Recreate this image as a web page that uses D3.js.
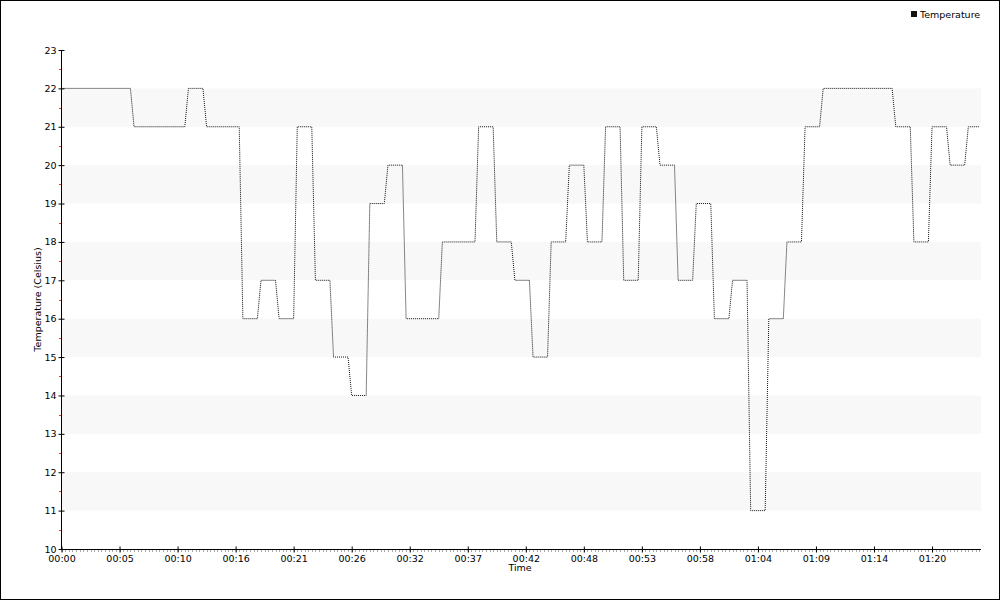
<!DOCTYPE html>
<html><head><meta charset="utf-8">
<script src="https://cdn.jsdelivr.net/npm/d3@7"></script>
<style>
body{margin:0;background:#fff;}
text{font-family:"DejaVu Sans",sans-serif;font-size:9.5px;fill:#000;}
</style></head>
<body><svg id="c" width="1000" height="600"></svg>
<script>
// Data: breakpoints (seconds from start, temperature in Celsius)
const runStartSec = [0,400,700,800,1000,1100,1200,1300,1400,1500,1600,1700,1800,1900,2100,2300,2400,2500,2600,2700,2800,2900,3000,3100,3200,3300,3400,3500,3600,3700,3800,3900,4000,4100,4200,4600,4700,4800,4900,5000];
const runEndSec   = [380,680,780,980,1080,1180,1280,1380,1480,1580,1680,1780,1880,2080,2280,2380,2480,2580,2680,2780,2880,2980,3080,3180,3280,3380,3480,3580,3680,3780,3880,3980,4080,4180,4580,4680,4780,4880,4980,5060];
const runTemps    = [22,21,22,21,16,17,16,21,17,15,14,19,20,16,18,21,18,17,15,18,20,18,21,17,21,20,17,19,16,17,11,16,18,21,22,21,18,21,20,21];
const yTicks = [10,11,12,13,14,15,16,17,18,19,20,21,22,23];
const xTickSec = [0,320,640,960,1280,1600,1920,2240,2560,2880,3200,3520,3840,4160,4480,4800];
const seriesName = "Temperature";

const points = [];
runTemps.forEach((v,i)=>{ points.push([runStartSec[i],v]); points.push([runEndSec[i],v]); });

const svg = d3.select("#c");
const L=61, R=981, T=50, B=549;
const x = d3.scaleLinear().domain([0,5070]).range([L+0.5,R]);
const y = d3.scaleLinear().domain([10,23]).range([B,T]);

// outer border
svg.append("rect").attr("x",0.5).attr("y",0.5).attr("width",999).attr("height",599)
  .attr("fill","#fff").attr("stroke","#000");

// alternating bands
const bandLows = yTicks.filter(v=>v%2===1 && v<23);
svg.append("g").selectAll("rect").data(bandLows).join("rect")
  .attr("x",L).attr("width",R-L)
  .attr("y",d=>y(d+1)).attr("height",d=>y(d)-y(d+1))
  .attr("fill","#f8f8f8");

// line
const line = d3.line().x(d=>x(d[0])).y(d=>y(d[1]));
svg.append("path").datum(points).attr("d",line)
  .attr("fill","none").attr("stroke","#111").attr("stroke-width",1)
  .attr("stroke-dasharray","1,1");

// x minor ticks
const minor = d3.range(0,5070,20);
svg.append("g").selectAll("line").data(minor).join("line")
  .attr("x1",d=>Math.round(x(d))+0.5).attr("x2",d=>Math.round(x(d))+0.5)
  .attr("y1",B+1).attr("y2",B+3).attr("stroke","#aaa");

// y minor ticks (red, half values)
const yMinor = yTicks.slice(0,-1).map(v=>v+0.5);
svg.append("g").selectAll("line").data(yMinor).join("line")
  .attr("x1",L-2).attr("x2",L).attr("y1",d=>Math.round(y(d))+0.5).attr("y2",d=>Math.round(y(d))+0.5)
  .attr("stroke","#e33");

// Axes
const fmt = d3.utcFormat("%H:%M");
const xAxis = d3.axisBottom(x).tickValues(xTickSec).tickFormat(d=>fmt(new Date(d*1000))).tickSize(0).tickPadding(3);
const gx = svg.append("g").attr("transform",`translate(0,${B+0.5})`).call(xAxis);
gx.select(".domain").attr("stroke","#000").attr("d",`M${L},0H${R}`);
gx.selectAll(".tick line").remove();
gx.selectAll(".tick").append("line").attr("y1",-3).attr("y2",3).attr("stroke","#000");
gx.selectAll("text").attr("font-family","DejaVu Sans").attr("font-size",9.5).attr("fill","#000").attr("dy","0.95em");

const yAxis = d3.axisLeft(y).tickValues(yTicks).tickSize(0).tickPadding(5);
const gy = svg.append("g").attr("transform",`translate(${L+0.5},0)`).call(yAxis);
gy.select(".domain").attr("stroke","#000").attr("d",`M0,${T}V${B}`);
gy.selectAll(".tick").append("line").attr("x1",-3).attr("x2",3).attr("stroke","#000");
gy.selectAll("text").attr("font-family","DejaVu Sans").attr("font-size",9.5).attr("fill","#000");

// axis titles
svg.append("text").attr("x",(L+R)/2-1).attr("y",571).attr("text-anchor","middle").text("Time");
svg.append("text").attr("transform",`translate(41,${(T+B)/2}) rotate(-90)`).attr("text-anchor","middle").text("Temperature (Celsius)");

// legend
svg.append("rect").attr("x",911).attr("y",11).attr("width",6).attr("height",6).attr("fill","#111");
svg.append("text").attr("x",920).attr("y",18).text(seriesName);
</script></body></html>
